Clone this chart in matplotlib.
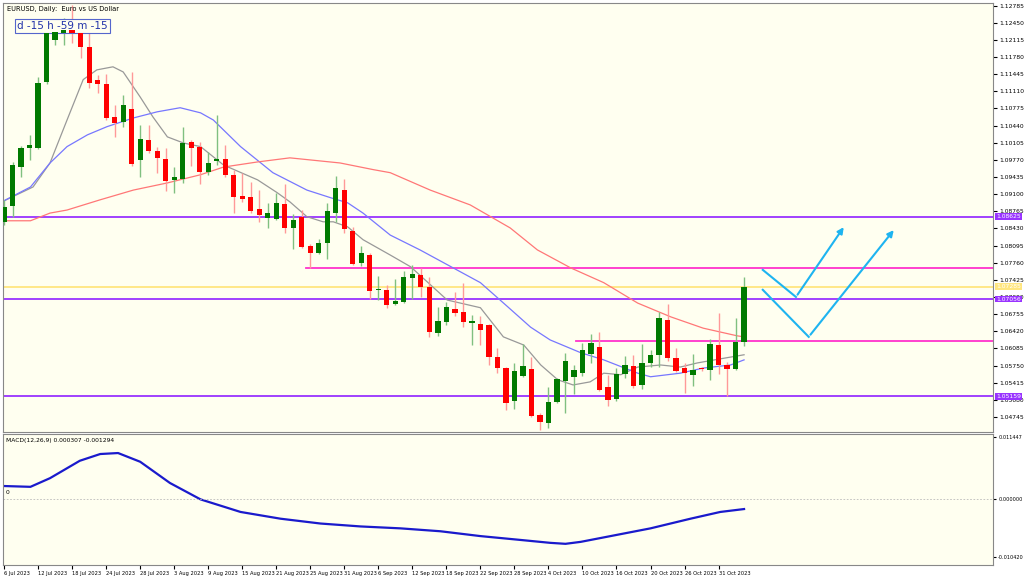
import matplotlib
matplotlib.use("Agg")
import matplotlib.pyplot as plt
import numpy as np

# daily candles EURUSD, 6 Jul .. 2 Nov 2023
opens = [1.0856, 1.0887, 1.0963, 1.1001, 1.1001, 1.1130, 1.1212, 1.1226, 1.1231, 1.1226,
         1.1198, 1.1134, 1.1126, 1.1061, 1.1051, 1.1077, 1.0977, 1.1016, 1.0995, 1.0979,
         1.0938, 1.0940, 1.1012, 1.1003, 1.0954, 1.0975, 1.0979, 1.0948, 1.0907, 1.0905,
         1.0881, 1.0864, 1.0862, 1.0891, 1.0844, 1.0866, 1.0809, 1.0795, 1.0815, 1.0873,
         1.0918, 1.0838, 1.0776, 1.0791, 1.0723, 1.0723, 1.0695, 1.0699, 1.0746, 1.0752,
         1.0729, 1.0639, 1.0660, 1.0686, 1.0680, 1.0659, 1.0656, 1.0654, 1.0592, 1.0570,
         1.0506, 1.0555, 1.0568, 1.0478, 1.0463, 1.0504, 1.0545, 1.0553, 1.0560, 1.0598,
         1.0611, 1.0533, 1.0510, 1.0559, 1.0574, 1.0537, 1.0580, 1.0596, 1.0664, 1.0590,
         1.0570, 1.0557, 1.0570, 1.0566, 1.0615, 1.0576, 1.0568, 1.0621]
closes = [1.0885, 1.0967, 1.1001, 1.1006, 1.1128, 1.1226, 1.1227, 1.1231, 1.1226, 1.1198,
          1.1128, 1.1126, 1.1059, 1.1049, 1.1085, 1.0969, 1.1018, 1.0995, 1.0981, 1.0936,
          1.0944, 1.1010, 1.1001, 1.0954, 1.0971, 1.0979, 1.0948, 1.0905, 1.0901, 1.0877,
          1.0870, 1.0873, 1.0893, 1.0844, 1.0860, 1.0807, 1.0795, 1.0815, 1.0877, 1.0922,
          1.0842, 1.0774, 1.0795, 1.0721, 1.0725, 1.0693, 1.0701, 1.0748, 1.0754, 1.0729,
          1.0641, 1.0662, 1.0690, 1.0678, 1.0660, 1.0662, 1.0645, 1.0592, 1.0570, 1.0502,
          1.0564, 1.0574, 1.0476, 1.0465, 1.0504, 1.0549, 1.0584, 1.0566, 1.0605, 1.0619,
          1.0527, 1.0508, 1.0559, 1.0576, 1.0535, 1.0580, 1.0596, 1.0668, 1.0590, 1.0564,
          1.0560, 1.0566, 1.0568, 1.0617, 1.0576, 1.0568, 1.0621, 1.0729]
highs = [1.0899, 1.0973, 1.1004, 1.1026, 1.1139, 1.1227, 1.1245, 1.1255, 1.1280, 1.1227,
         1.1227, 1.1143, 1.1145, 1.1085, 1.1104, 1.1149, 1.1046, 1.1046, 1.1003, 1.1001,
         1.0963, 1.1042, 1.1016, 1.1012, 1.0993, 1.1065, 1.1006, 1.0958, 1.0952, 1.0934,
         1.0918, 1.0893, 1.0913, 1.0930, 1.0871, 1.0879, 1.0813, 1.0823, 1.0893, 1.0946,
         1.0940, 1.0846, 1.0809, 1.0795, 1.0750, 1.0733, 1.0744, 1.0760, 1.0772, 1.0766,
         1.0748, 1.0690, 1.0699, 1.0719, 1.0737, 1.0674, 1.0672, 1.0656, 1.0609, 1.0572,
         1.0580, 1.0617, 1.0592, 1.0482, 1.0533, 1.0551, 1.0600, 1.0576, 1.0619, 1.0637,
         1.0641, 1.0557, 1.0570, 1.0594, 1.0596, 1.0617, 1.0605, 1.0680, 1.0695, 1.0609,
         1.0580, 1.0598, 1.0572, 1.0627, 1.0678, 1.0582, 1.0668, 1.0748]
lows = [1.0850, 1.0866, 1.0944, 1.0977, 1.0999, 1.1126, 1.1202, 1.1202, 1.1206, 1.1177,
        1.1118, 1.1108, 1.1055, 1.1022, 1.1042, 1.0965, 1.0944, 1.0991, 1.0952, 1.0916,
        1.0913, 1.0932, 1.0965, 1.0930, 1.0948, 1.0967, 1.0944, 1.0873, 1.0895, 1.0873,
        1.0856, 1.0844, 1.0860, 1.0834, 1.0803, 1.0805, 1.0766, 1.0793, 1.0783, 1.0856,
        1.0834, 1.0772, 1.0770, 1.0705, 1.0703, 1.0688, 1.0693, 1.0697, 1.0705, 1.0709,
        1.0631, 1.0633, 1.0654, 1.0672, 1.0650, 1.0615, 1.0615, 1.0576, 1.0560, 1.0488,
        1.0490, 1.0553, 1.0474, 1.0449, 1.0453, 1.0502, 1.0482, 1.0519, 1.0555, 1.0580,
        1.0525, 1.0496, 1.0506, 1.0551, 1.0531, 1.0529, 1.0572, 1.0572, 1.0584, 1.0562,
        1.0521, 1.0535, 1.0564, 1.0547, 1.0559, 1.0515, 1.0566, 1.0613]

# moving averages (bar index, price)
ma_fast_x = [-0.5, 3.4, 5.4, 7.4, 9.3, 10.9, 12.8, 14, 16, 17.5, 19.2, 21.1, 23.1, 25.8, 29.8,
             32.1, 33.6, 35.6, 37.5, 38.7, 40.4, 42.2, 45.4, 47.8, 52.1, 56, 58.7, 61.1, 63.1,
             65.1, 66.9, 68.9, 70.5, 72.5, 74.5, 77.2, 79.5, 81.5, 84.2, 87]
ma_fast_y = [1.0893, 1.0924, 1.0971, 1.1055, 1.1134, 1.1153, 1.1159, 1.1149, 1.1100, 1.1061,
             1.1022, 1.1010, 1.1003, 1.0967, 1.0938, 1.0913, 1.0895, 1.0866, 1.0856, 1.0856,
             1.0846, 1.0821, 1.0791, 1.0768, 1.0703, 1.0688, 1.0631, 1.0615, 1.0576, 1.0547,
             1.0537, 1.0543, 1.0560, 1.0557, 1.0572, 1.0576, 1.0572, 1.0580, 1.0588, 1.0596]
ma_mid_x = [-0.5, 3.1, 5.4, 7.4, 9.8, 12.1, 15.2, 18, 20.7, 23.1, 24.6, 27.8, 31.6, 35.6, 38.4,
            40.4, 42.2, 45.4, 48.9, 56, 59.2, 61.9, 64.2, 67.8, 70.5, 74.5, 76, 79.5, 82.2,
            85.4, 87]
ma_mid_y = [1.0893, 1.0924, 1.0971, 1.1003, 1.1026, 1.1042, 1.1059, 1.1071, 1.1079, 1.1069,
            1.1055, 1.1003, 1.0952, 1.0918, 1.0903, 1.0893, 1.0873, 1.0830, 1.0801, 1.0737,
            1.0690, 1.0650, 1.0625, 1.0600, 1.0586, 1.0560, 1.0553, 1.0560, 1.0570, 1.0576,
            1.0586]
ma_slow_x = [-0.5, 3.1, 5.4, 7.4, 11.3, 15.2, 19.2, 23.1, 25.8, 29.8, 33.6, 39.5, 43.4, 45.4,
             50.1, 54.8, 59.5, 62.7, 66.6, 70.5, 74.5, 78.4, 82.2, 86.2, 87]
ma_slow_y = [1.0858, 1.0858, 1.0873, 1.0879, 1.0899, 1.0918, 1.0932, 1.0948, 1.0963, 1.0973,
             1.0981, 1.0971, 1.0958, 1.0952, 1.0918, 1.0889, 1.0844, 1.0801, 1.0766, 1.0737,
             1.0697, 1.0670, 1.0648, 1.0633, 1.0631]

macd_x = [-0.5, 3.1, 5.4, 8.9, 11.3, 13.4, 16, 19.5, 23.1, 27.8, 32.5, 37.2, 41.9, 46.6, 51.3,
          56, 60.7, 64.2, 66, 67.8, 71.3, 76, 80.7, 84.2, 87]
macd_y = [0.00246, 0.00229, 0.00387, 0.00704, 0.00827, 0.00845, 0.00686, 0.00299, 0.0, -0.00229,
          -0.00352, -0.0044, -0.00493, -0.00528, -0.00581, -0.00669, -0.00739, -0.00792, -0.0081,
          -0.00774, -0.00669, -0.00528, -0.00352, -0.00229, -0.00176]

date_labels = ["6 Jul 2023", "12 Jul 2023", "18 Jul 2023", "24 Jul 2023", "28 Jul 2023",
               "3 Aug 2023", "9 Aug 2023", "15 Aug 2023", "21 Aug 2023", "25 Aug 2023",
               "31 Aug 2023", "6 Sep 2023", "12 Sep 2023", "18 Sep 2023", "22 Sep 2023",
               "28 Sep 2023", "4 Oct 2023", "10 Oct 2023", "16 Oct 2023", "20 Oct 2023",
               "26 Oct 2023", "31 Oct 2023"]
price_ticks = [1.12785, 1.12450, 1.12115, 1.11780, 1.11445, 1.11110, 1.10775, 1.10440, 1.10105,
               1.09770, 1.09435, 1.09100, 1.08765, 1.08430, 1.08095, 1.07760, 1.07425, 1.07090,
               1.06755, 1.06420, 1.06085, 1.05750, 1.05415, 1.05080, 1.04745]

# horizontal levels: (price, start bar, colour, label)
levels = [(1.0866, None, "#9933ff", "1.08625"), (1.0766, 35.5, "#ff33cc", None),
          (1.0729, None, "#ffe680", "1.07285"), (1.0705, None, "#9933ff", "1.07056"),
          (1.0623, 67.2, "#ff33cc", None), (1.0515, None, "#9933ff", "1.05159")]
arrows = [((89.2, 1.0762), (93.1, 1.0709), (98.9, 1.0850)),
          ((89.2, 1.0723), (94.6, 1.0631), (104.8, 1.0844))]

BG = "#fffff0"
FS = 4.3
fig = plt.figure(figsize=(10.24, 5.76), dpi=100, facecolor="white")
ax = fig.add_axes([0.003, 0.25, 0.967, 0.745], facecolor=BG)
mx = fig.add_axes([0.003, 0.019, 0.967, 0.228], facecolor=BG)

n = len(opens)
for i in range(n):
    up = closes[i] >= opens[i]
    body_c = "#007a00" if up else "#ff0000"
    wick_c = "#80c080" if up else "#ff9999"
    ax.vlines(i, lows[i], highs[i], color=wick_c, lw=1.0, zorder=3)
    lo, hi = min(opens[i], closes[i]), max(opens[i], closes[i])
    ax.bar(i, max(hi - lo, 0.00012), 0.62, bottom=lo, color=body_c, zorder=4)

ax.plot(ma_fast_x, ma_fast_y, color="#999999", lw=0.9, zorder=2)
ax.plot(ma_mid_x, ma_mid_y, color="#7777ff", lw=0.9, zorder=2)
ax.plot(ma_slow_x, ma_slow_y, color="#ff7777", lw=0.9, zorder=2)

xmin, xmax = -0.12, 116.3
for price, start, col, lab in levels:
    x0 = xmin if start is None else start
    ax.plot([x0, xmax], [price, price], color=col, lw=1.3, zorder=1)
    if lab:
        ax.text(1.003, price, lab, transform=ax.get_yaxis_transform(), fontsize=FS,
                color="white", va="center", ha="left", clip_on=False,
                bbox=dict(boxstyle="square,pad=0.15", fc=col, ec="none"))

for a, b, c in arrows:
    ax.plot([a[0], b[0]], [a[1], b[1]], color="#1eb4f0", lw=1.5, zorder=5)
    ax.annotate("", xy=c, xytext=b, arrowprops=dict(arrowstyle="-|>", color="#1eb4f0", lw=1.5,
                                                   mutation_scale=9), zorder=5)

ax.set_xlim(xmin, xmax)
ax.set_ylim(1.0445, 1.1284)
ax.yaxis.tick_right()
ax.set_yticks(price_ticks)
ax.set_yticklabels([f"{t:.5f}" for t in price_ticks])
ax.tick_params(axis="y", labelsize=FS, length=3, pad=1.5)
ax.set_xticks([])
ax.text(0.004, 0.993, "EURUSD, Daily:  Euro vs US Dollar", transform=ax.transAxes,
        fontsize=4.8, va="top", ha="left")
ax.text(0.014, 0.958, "d -15 h -59 m -15", transform=ax.transAxes, fontsize=7.5,
        color="#2233aa", va="top", ha="left",
        bbox=dict(boxstyle="square,pad=0.2", fc=BG, ec="#5566cc", lw=0.8))

mx.plot(macd_x, macd_y, color="#1a1acc", lw=1.6)
mx.axhline(0, color="#bbbbbb", lw=0.6, ls=(0, (2, 2)))
mx.set_xlim(xmin, xmax)
mx.set_ylim(-0.01197, 0.01197)
mx.yaxis.tick_right()
mx.set_yticks([0.011447, 0.0, -0.010420])
mx.set_yticklabels(["0.011447", "0.000000", "-0.010420"])
mx.tick_params(axis="y", labelsize=3.6, length=2.5, pad=1)
mx.set_xticks(np.arange(0, 4 * len(date_labels), 4))
mx.set_xticklabels(date_labels, ha="left")
mx.tick_params(axis="x", labelsize=3.7, length=3, pad=1)
mx.text(0.003, 0.97, "MACD(12,26,9) 0.000307 -0.001294", transform=mx.transAxes,
        fontsize=FS, va="top", ha="left")
mx.text(0.003, 0.53, "0", transform=mx.transAxes, fontsize=FS, va="bottom", ha="left")

for a in (ax, mx):
    for s in a.spines.values():
        s.set_color("#888888")
        s.set_linewidth(0.8)

fig.savefig("out.png", dpi=100, facecolor="white")
